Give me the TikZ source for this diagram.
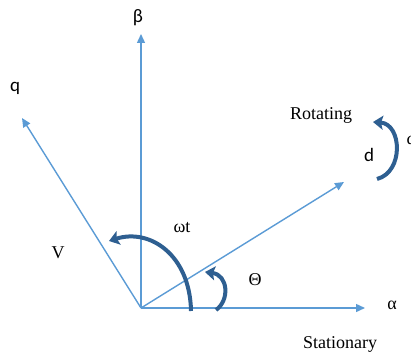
\documentclass[tikz,border=0pt]{standalone}
\usepackage{fontspec}
\setmainfont{Liberation Serif}
\newfontfamily\labelsans{Carlito}
\usetikzlibrary{arrows.meta}
\definecolor{axisblue}{RGB}{91,155,213}
\definecolor{turnblue}{RGB}{46,95,145}
\begin{document}
\begin{tikzpicture}[x=1pt, y=-1pt, axis/.style={draw=axisblue, line width=1.4pt, -{Triangle[length=9pt,width=8pt]}}, turn/.style={draw=turnblue, line width=4pt, -{Stealth[length=10pt,width=14pt,inset=2pt]}}, serif/.style={font=\fontsize{18}{20}\selectfont}, sans/.style={font=\labelsans\fontsize{19}{21}\selectfont}]

		\useasboundingbox (0,0) rectangle (411,352);
		\coordinate (O) at (141, 308);
		\coordinate (alphaTip) at (365, 308);
		\coordinate (betaTip) at (141, 34);
		\coordinate (qTip) at (22, 118);
		\coordinate (dTip) at (344, 182);

		\node[serif] (alpha) at (392, 305) {α};
		\node[sans] (beta) at (138, 18) {β};
		\node[sans] (q) at (15, 88) {q};
		\node[sans] (d) at (369, 155) {d};
		\node[serif] (V) at (58, 253) {V};
		\node[serif] (wt) at (182, 228) {ωt};
		\node[serif] (theta) at (255, 280) {Θ};
		\node[serif] (rot) at (321, 115) {Rotating};
		\node[serif] (stat) at (340, 344) {Stationary};
		\node[serif, anchor=west] (omega) at (403, 140) {ω};

		\draw[axis] (O) -- (alphaTip);
		\draw[axis] (O) -- (betaTip);
		\draw[axis] (O) -- (qTip);
		\draw[axis] (O) -- (dTip);

		\draw[turn] (191, 311) .. controls (190, 255) and (150, 228) .. (109, 241);
		\draw[turn] (216, 310) .. controls (230, 300) and (228, 275) .. (205, 272);
		\draw[turn] (377, 179) .. controls (404, 172) and (402, 124) .. (373, 122);
	\end{tikzpicture}
\end{document}
